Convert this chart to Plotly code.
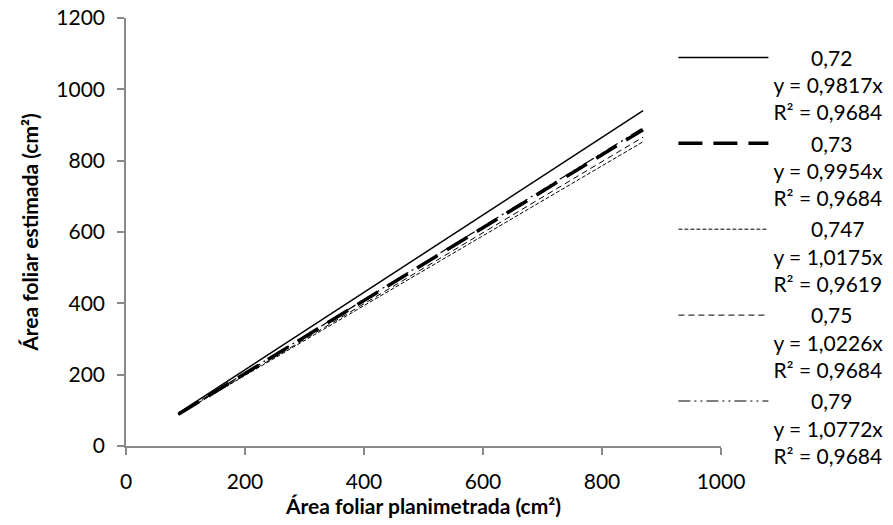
import plotly.graph_objects as go

# Data (área foliar planimetrada vs estimada, cm²)
planimetrada = [88, 869]
series_names = ["0,72", "0,73", "0,747", "0,75", "0,79"]
equations = ["y = 0,9817x", "y = 0,9954x", "y = 1,0175x", "y = 1,0226x", "y = 1,0772x"]
r2_values = ["R² = 0,9684", "R² = 0,9684", "R² = 0,9619", "R² = 0,9684", "R² = 0,9684"]
estimada = [
    [92, 940],   # 0,72
    [89, 887],   # 0,73
    [88, 853],   # 0,747
    [88, 866],   # 0,75
    [89, 892],   # 0,79
]
x_ticks = [0, 200, 400, 600, 800, 1000]
y_ticks = [0, 200, 400, 600, 800, 1000, 1200]

styles = [
    dict(width=1.5, dash="solid"),
    dict(width=3.5, dash="24px,11px"),
    dict(width=1.0, dash="4px,2px"),
    dict(width=1.0, dash="6px,4px"),
    dict(width=1.2, dash="12px,4px,2px,4px,2px,4px"),
]

FONT = "Lato, 'Open Sans', sans-serif"
FS = 21
fig = go.Figure()
nb = "\u00a0"
for i, name in enumerate(series_names):
    label = nb * 7 + name + "<br>" + equations[i] + "<br>" + r2_values[i]
    fig.add_trace(go.Scatter(
        x=planimetrada, y=estimada[i], mode="lines", name=label,
        legendgroup=str(i),
        line=dict(color="black", **styles[i]),
    ))

axis_common = dict(
    showline=True, linecolor="#898989", linewidth=1.5,
    ticks="outside", ticklen=7, tickcolor="#898989", tickwidth=1.5,
    showgrid=False, zeroline=False,
    tickfont=dict(family=FONT, size=FS, color="black"),
)
fig.update_layout(
    width=893, height=525,
    margin=dict(l=126, r=172, t=18, b=79, autoexpand=False),
    paper_bgcolor="white", plot_bgcolor="white",
    font=dict(family=FONT, size=FS, color="black"),
    xaxis=dict(range=[0, 1000], tickvals=x_ticks, ticklabelstandoff=9,
               title=dict(text="<b>Área foliar planimetrada (cm²)</b>", standoff=6,
                          font=dict(family=FONT, size=FS)),
               **axis_common),
    yaxis=dict(range=[0, 1200], tickvals=y_ticks, ticklabelstandoff=8,
               title=dict(text="<b>Área foliar estimada (cm²)</b>", standoff=12,
                          font=dict(family=FONT, size=FS)),
               **axis_common),
    legend=dict(x=0.92, xanchor="left",
                y=0.955, yanchor="top", maxheight=520,
                itemwidth=90, valign="top", tracegroupgap=1,
                font=dict(family=FONT, size=FS, color="black"),
                bgcolor="rgba(0,0,0,0)"),
    showlegend=True,
)
fig.write_html("out.html")
